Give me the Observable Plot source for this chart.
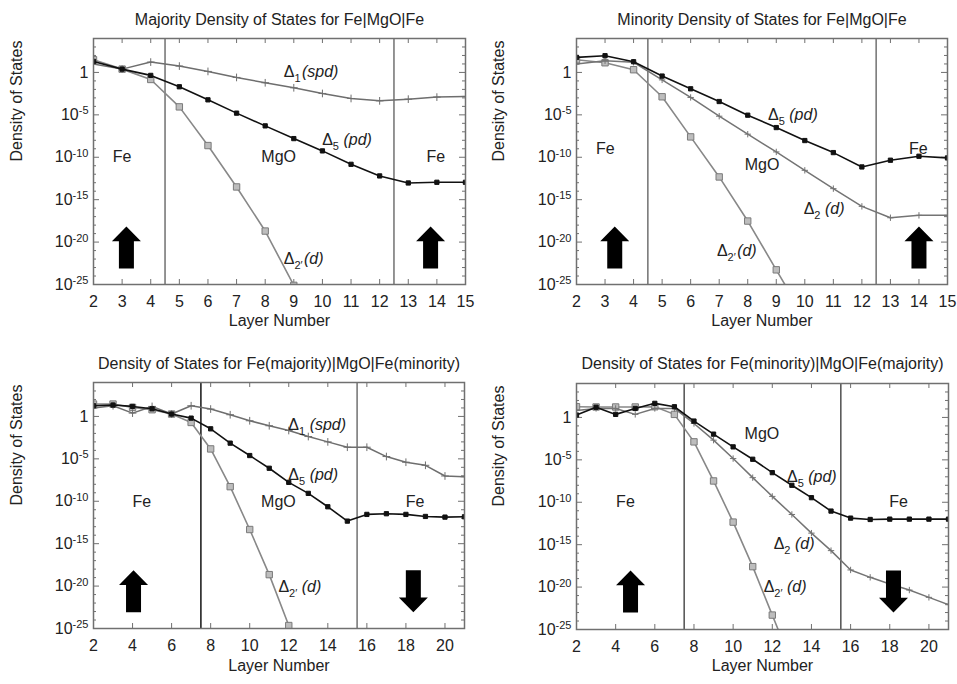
<!DOCTYPE html>
<html><head><meta charset="utf-8">
<script src="https://cdn.jsdelivr.net/npm/d3@7"></script>
<script src="https://cdn.jsdelivr.net/npm/@observablehq/plot@0.6"></script>
<style>
body{margin:0;background:#fff;font-family:"Liberation Sans",Arial,sans-serif}
#wrap{position:relative;width:957px;height:684px;overflow:hidden;background:#fff}
.panel{position:absolute}
</style></head><body><div id="wrap"></div>
<script>
// ---------- data (values are log10 of density of states) ----------
const layersTop = [2,3,4,5,6,7,8,9,10,11,12,13,14,15];
const layersBottom = [2,3,4,5,6,7,8,9,10,11,12,13,14,15,16,17,18,19,20,21];
const xTicksTop = [2,3,4,5,6,7,8,9,10,11,12,13,14,15];
const xTicksBottom = [2,4,6,8,10,12,14,16,18,20];
const yTickExps = [-25,-20,-15,-10,-5,0];
const titles = [
  "Majority Density of States for Fe|MgO|Fe",
  "Minority Density of States for Fe|MgO|Fe",
  "Density of States for Fe(majority)|MgO|Fe(minority)",
  "Density of States for Fe(minority)|MgO|Fe(majority)"
];
const interfacesTop = [4.5, 12.5];
const interfacesBottom = [7.5, 15.5];

// Panel 1: majority
const maj_D1  = [1.0, 0.39, 1.22, 0.75, 0.12, -0.59, -1.22, -1.81, -2.48, -3.07, -3.35, -3.15, -2.91, -2.83];
const maj_D5  = [1.3, 0.39, -0.35, -1.69, -3.23, -4.8, -6.3, -7.8, -9.25, -10.83, -12.2, -13.03, -12.95, -12.95];
const maj_D2p = [1.5, 0.39, -0.83, -4.06, -8.62, -13.5, -18.7, -25.1, -31.5];
// Panel 2: minority
const min_D5  = [1.77, 1.97, 1.26, -0.43, -1.93, -3.43, -5.04, -6.5, -8.03, -9.45, -11.14, -10.35, -9.88, -10.08];
const min_D2  = [1.0, 1.38, 1.2, -0.88, -2.95, -5.16, -7.28, -9.37, -11.54, -13.7, -15.79, -17.13, -16.85, -16.85];
const min_D2p = [1.5, 1.14, 0.32, -2.87, -7.6, -12.32, -17.52, -23.27, -29.0];
// Panel 3: Fe(majority)|MgO|Fe(minority)
const ud_D1  = [0.99, 1.26, 0.39, 1.18, 0.28, 1.26, 0.87, 0.2, -0.51, -1.1, -1.66, -2.37, -3.0, -3.63, -3.63, -4.73, -5.4, -5.76, -7.02, -7.1];
const ud_D5  = [1.26, 1.34, 1.18, 0.9, 0.28, -0.2, -1.46, -3.15, -4.61, -6.11, -7.77, -9.07, -10.65, -12.34, -11.55, -11.47, -11.55, -11.79, -11.87, -11.83];
const ud_D2p = [1.46, 1.46, 1.06, 0.79, 0.28, -0.71, -3.83, -8.28, -13.33, -18.65, -24.65, -31.0];
// Panel 4: Fe(minority)|MgO|Fe(majority)
const du_D5  = [0.28, 1.2, 0.36, 1.06, 1.66, 1.26, -0.43, -1.97, -3.47, -4.93, -6.51, -8.0, -9.46, -11.04, -11.87, -12.03, -11.99, -11.99, -11.99, -11.99];
const du_D2  = [0.83, 1.06, 1.06, 0.36, 1.06, 1.06, -0.71, -2.68, -4.85, -7.1, -9.31, -11.44, -13.64, -15.7, -17.98, -18.85, -19.64, -20.35, -21.21, -22.08];
const du_D2p = [1.26, 1.23, 1.23, 1.23, 1.26, 0.36, -2.88, -7.49, -12.34, -17.59, -23.3, -29.0];

// annotations (x = layer, e = log10 DOS)
const curveLabels1 = [{x:8.65,e:0.03,t:"Δ1(spd)"},{x:9.99,e:-7.99,t:"Δ5 (pd)"},{x:8.65,e:-21.97,t:"Δ2′(d)"}];
const curveLabels2 = [{x:8.71,e:-5.04,t:"Δ5 (pd)"},{x:9.96,e:-16.06,t:"Δ2 (d)"},{x:6.92,e:-20.98,t:"Δ2′(d)"}];
const curveLabels3 = [{x:11.98,e:-0.99,t:"Δ1 (spd)"},{x:11.98,e:-6.9,t:"Δ5 (pd)"},{x:11.47,e:-20.11,t:"Δ2′ (d)"}];
const curveLabels4 = [{x:12.75,e:-7.02,t:"Δ5 (pd)"},{x:12.07,e:-14.91,t:"Δ2 (d)"},{x:11.56,e:-20.03,t:"Δ2′ (d)"}];
const regions1 = [{x:3.0,e:-10,t:"Fe"},{x:8.47,e:-10,t:"MgO"},{x:13.96,e:-10,t:"Fe"}];
const regions2 = [{x:3.01,e:-8.98,t:"Fe"},{x:8.5,e:-10.94,t:"MgO"},{x:13.98,e:-8.98,t:"Fe"}];
const regions3 = [{x:4.47,e:-10.05,t:"Fe"},{x:11.47,e:-10.05,t:"MgO"},{x:18.47,e:-10.05,t:"Fe"}];
const regions4 = [{x:4.5,e:-9.98,t:"Fe"},{x:11.47,e:-1.89,t:"MgO"},{x:18.45,e:-9.98,t:"Fe"}];
const spinArrows1 = [{x:3.15,e:-20.63,dir:"up"},{x:13.78,e:-20.63,dir:"up"}];
const spinArrows2 = [{x:3.34,e:-20.65,dir:"up"},{x:14.0,e:-20.65,dir:"up"}];
const spinArrows3 = [{x:4.05,e:-20.6,dir:"up"},{x:18.38,e:-20.6,dir:"down"}];
const spinArrows4 = [{x:4.76,e:-20.52,dir:"up"},{x:18.19,e:-20.52,dir:"down"}];

// ---------- styles ----------
const styles = {
  D1:  {line:"#6e6e6e", w:1.5, symbol:"plus",   r:2.6, fill:"none",    dot:"#6e6e6e"},
  D2:  {line:"#747474", w:1.5, symbol:"plus",   r:2.2, fill:"none",    dot:"#747474"},
  D5:  {line:"#111111", w:1.6, symbol:"square", r:2.4, fill:"#111111", dot:"#111111"},
  D2p: {line:"#888888", w:1.6, symbol:"square", r:3.6, fill:"#bdbdbd", dot:"#7a7a7a"}
};
function arrowSymbol(k){
  return {draw(ctx, size){
    const s = Math.sqrt(size/Math.PI)/21;
    const pts = [[0,-21],[14.5,-6.3],[7.5,-6.3],[7.5,21],[-7.5,21],[-7.5,-6.3],[-14.5,-6.3]];
    pts.forEach(([x,y],i)=> i ? ctx.lineTo(x*s, y*s*k) : ctx.moveTo(x*s, y*s*k));
    ctx.closePath();
  }};
}

const panels = [
  {title:titles[0], left:0, top:0, width:478, height:340, m:[38,13,56,93], layers:layersTop, xDomain:[2,15], xTicks:xTicksTop,
   interfaces:interfacesTop, ifColors:["#7a7a7a","#7a7a7a"], series:[["D2p",maj_D2p],["D1",maj_D1],["D5",maj_D5]],
   labels:curveLabels1, regions:regions1, arrows:spinArrows1, titleDy:-24.5, xlabDy:41, ylabDx:-77},
  {title:titles[1], left:478, top:0, width:479, height:340, m:[38,10,56,98], layers:layersTop, xDomain:[2,15], xTicks:xTicksTop,
   interfaces:interfacesTop, ifColors:["#7a7a7a","#7a7a7a"], series:[["D2p",min_D2p],["D2",min_D2],["D5",min_D5]],
   labels:curveLabels2, regions:regions2, arrows:spinArrows2, titleDy:-24.5, xlabDy:41, ylabDx:-77.5},
  {title:titles[2], left:0, top:340, width:478, height:344, m:[42,14,56,93], layers:layersBottom, xDomain:[2,21], xTicks:xTicksBottom,
   interfaces:interfacesBottom, ifColors:["#222222","#7a7a7a"], series:[["D2p",ud_D2p],["D1",ud_D1],["D5",ud_D5]],
   labels:curveLabels3, regions:regions3, arrows:spinArrows3, titleDy:-24.5, xlabDy:42, ylabDx:-77},
  {title:titles[3], left:478, top:340, width:479, height:344, m:[43,9,55,98], layers:layersBottom, xDomain:[2,21], xTicks:xTicksBottom,
   interfaces:interfacesBottom, ifColors:["#5a5a5a","#5a5a5a"], series:[["D2p",du_D2p],["D2",du_D2],["D5",du_D5]],
   labels:curveLabels4, regions:regions4, arrows:spinArrows4, titleDy:-25.5, xlabDy:41, ylabDx:-77.5}
];

const frameColor = "#707070";
const minorExps = d3.range(-24, 4).filter(e => e % 5 !== 0);
const majorExps = yTickExps;

function drawPanel(p){
  const [mt,mr,mb,ml] = p.m;
  const H = p.height - mt - mb, W = p.width - ml - mr;
  const marks = [
    Plot.ruleX(p.xTicks, {stroke:frameColor, insetTop:H-5}),
    Plot.ruleX(p.xTicks, {stroke:frameColor, insetBottom:H-5}),
    Plot.ruleY(minorExps.map(e=>10**e), {stroke:frameColor, insetRight:W-3}),
    Plot.ruleY(majorExps.map(e=>10**e), {stroke:frameColor, insetRight:W-6}),
    Plot.ruleY(minorExps.map(e=>10**e), {stroke:frameColor, insetLeft:W-3}),
    Plot.ruleY(majorExps.map(e=>10**e), {stroke:frameColor, insetLeft:W-6})
  ];
  p.interfaces.forEach((v,i) => marks.push(Plot.ruleX([v], {stroke:p.ifColors[i], strokeWidth:1.6})));
  for (const [key, vals] of p.series){
    const st = styles[key];
    const rows = vals.map((v,i)=>({x:p.layers[i], y:10**v}));
    marks.push(Plot.line(rows, {x:"x", y:"y", stroke:st.line, strokeWidth:st.w, clip:true}));
    marks.push(Plot.dot(rows, {x:"x", y:"y", symbol:st.symbol, r:st.r, fill:st.fill, stroke:st.dot, strokeWidth:1, clip:true}));
  }
  marks.push(
    Plot.frame({stroke:frameColor, strokeWidth:1.5}),
    Plot.text(p.regions, {x:"x", y:d=>10**d.e, text:"t", fontSize:16, fill:"#222"}),
    Plot.text(p.labels, {x:"x", y:d=>10**d.e, text:"t", textAnchor:"start", fontSize:16, fill:"#222"}),
    Plot.dot(p.arrows.filter(d=>d.dir==="up"), {x:"x", y:d=>10**d.e, symbol:arrowSymbol(1), r:21, fill:"#000", stroke:"none"}),
    Plot.dot(p.arrows.filter(d=>d.dir==="down"), {x:"x", y:d=>10**d.e, symbol:arrowSymbol(-1), r:21, fill:"#000", stroke:"none"}),
    Plot.axisX(p.xTicks, {tickSize:0, tickPadding:11, fontSize:16, label:null}),
    Plot.axisY(yTickExps.map(e=>10**e), {tickSize:0, tickPadding:5, fontSize:16, label:null,
      tickFormat: d => { const e = Math.round(Math.log10(d)); return e === 0 ? "1" : "10^" + e; }}),
    Plot.text([p.title], {text:d=>d, frameAnchor:"top", dy:p.titleDy, fontSize:16, fill:"#222"}),
    Plot.text(["Layer Number"], {text:d=>d, frameAnchor:"bottom", dy:p.xlabDy, fontSize:16, fill:"#222"}),
    Plot.text(["Density of States"], {text:d=>d, frameAnchor:"left", dx:p.ylabDx, rotate:-90, fontSize:16, fill:"#222"})
  );
  const svg = Plot.plot({
    width:p.width, height:p.height,
    marginTop:mt, marginRight:mr, marginBottom:mb, marginLeft:ml,
    x:{domain:p.xDomain, label:null},
    y:{type:"log", domain:[1e-25, 1e4], label:null},
    style:{fontFamily:"'Liberation Sans', Arial, sans-serif", fontSize:"16px", color:"#222", background:"transparent", overflow:"visible"},
    marks
  });
  // superscript exponents on y tick labels; subscripts and italics on curve labels
  d3.select(svg).selectAll("text").each(function(){
    if (this.querySelector("tspan")) return;
    const txt = this.textContent;
    const m = txt.match(/^10\^(.+)$/);
    if (m){
      this.textContent = "";
      const t = d3.select(this);
      t.append("tspan").attr("fill","#222").text("10");
      t.append("tspan").attr("fill","#222").attr("dy","-0.5em").attr("font-size","11px").text(m[1]);
      return;
    }
    const n = txt.match(/^Δ(\d′?)(\s?)\((\w+)\)$/);
    if (n){
      this.textContent = "";
      const t = d3.select(this);
      t.append("tspan").attr("fill","#222").text("Δ");
      t.append("tspan").attr("fill","#222").attr("dy","5").attr("font-size","11px").text(n[1]);
      t.append("tspan").attr("fill","#222").attr("dy","-5").text(n[2] ? "\u00a0" : "\u200a");
      t.append("tspan").attr("fill","#222").attr("font-style","italic").text("(" + n[3] + ")");
    }
  });
  const div = document.createElement("div");
  div.className = "panel";
  div.style.left = p.left + "px";
  div.style.top = p.top + "px";
  div.appendChild(svg);
  document.getElementById("wrap").appendChild(div);
}
panels.forEach(drawPanel);
</script>
</body></html>
